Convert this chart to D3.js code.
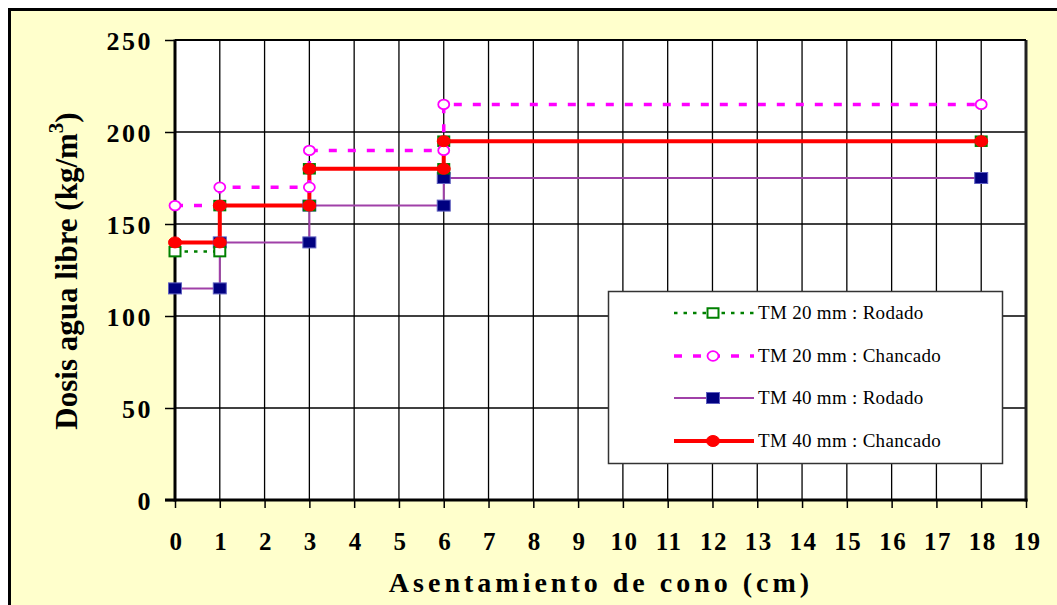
<!DOCTYPE html>
<html>
<head>
<meta charset="utf-8">
<script src="https://cdn.jsdelivr.net/npm/d3@7/dist/d3.min.js"></script>
<style>
  html, body { margin: 0; padding: 0; background: #ffffff; }
  svg { display: block; }
</style>
</head>
<body>
<svg id="chart" width="1057" height="605"></svg>
<script>
// ---- Data ----
const slump = [0, 1, 1, 3, 3, 6, 6, 18];
const rodado20 = [135, 135, 160, 160, 180, 180, 195, 195];
const chancado20 = [160, 160, 170, 170, 190, 190, 215, 215];
const rodado40 = [115, 115, 140, 140, 160, 160, 175, 175];
const chancado40 = [140, 140, 160, 160, 180, 180, 195, 195];
const xTicks = d3.range(0, 20);
const yTicks = [0, 50, 100, 150, 200, 250];
const seriesNames = ["TM 20 mm : Rodado", "TM 20 mm : Chancado", "TM 40 mm : Rodado", "TM 40 mm : Chancado"];
const xTitle = "Asentamiento de cono (cm)";
const yTitle = "Dosis agua libre (kg/m";

(function () {
const svg = d3.select("#chart");
const W = 1057, H = 605;
const pL = 175, pR = 1026, pT = 40, pB = 500;
const serif = "'Liberation Serif', 'Times New Roman', serif";

const x = d3.scaleLinear().domain([0, 19]).range([pL, pR]);
const y = d3.scaleLinear().domain([0, 250]).range([pB, pT]);

// background + outer frame
svg.append("rect").attr("x", 0).attr("y", 0).attr("width", W).attr("height", H).attr("fill", "#ffffff");
svg.append("rect").attr("x", 9.5).attr("y", 9.5).attr("width", W + 20).attr("height", H + 20)
  .attr("fill", "#FFFFCC").attr("stroke", "#000").attr("stroke-width", 3);

// plot area
svg.append("rect").attr("x", pL).attr("y", pT).attr("width", pR - pL).attr("height", pB - pT)
  .attr("fill", "#ffffff");

// gridlines
const grid = svg.append("g");
grid.selectAll("line.v").data(xTicks.filter(d => d > 0)).join("line")
  .attr("x1", d => x(d)).attr("x2", d => x(d)).attr("y1", pT).attr("y2", pB)
  .attr("stroke", "#000").attr("stroke-width", 1.3);
grid.selectAll("line.h").data(yTicks.filter(d => d > 0)).join("line")
  .attr("x1", pL).attr("x2", pR).attr("y1", d => y(d)).attr("y2", d => y(d))
  .attr("stroke", "#000").attr("stroke-width", 1.5);

// right border
svg.append("line").attr("x1", pR).attr("x2", pR).attr("y1", pT).attr("y2", pB + 1.5)
  .attr("stroke", "#222").attr("stroke-width", 3);

// axes
const xAxis = d3.axisBottom(x).tickValues(xTicks).tickSize(8).tickFormat(d3.format("d"));
const yAxis = d3.axisLeft(y).tickValues(yTicks).tickSize(10).tickFormat(d3.format("d"));

const gx = svg.append("g").attr("transform", `translate(0,${pB})`).call(xAxis);
gx.select(".domain").remove();
gx.selectAll(".tick line").attr("stroke", "#000").attr("stroke-width", 1.5);
gx.selectAll(".tick text")
  .attr("y", 0).attr("dy", 0)
  .attr("transform", "translate(1,50)")
  .attr("font-family", serif)
  .attr("font-weight", "bold").attr("font-size", 25)
  .attr("letter-spacing", 1.5).attr("fill", "#000");

const gy = svg.append("g").attr("transform", `translate(${pL},0)`).call(yAxis);
gy.select(".domain").remove();
gy.selectAll(".tick line").attr("stroke", "#000").attr("stroke-width", 1.5);
gy.selectAll(".tick text")
  .attr("x", -22).attr("dy", 0).attr("y", 9)
  .attr("font-family", serif)
  .attr("font-weight", "bold").attr("font-size", 26)
  .attr("letter-spacing", 2.5).attr("fill", "#000");

// axis lines (thick left & bottom, thin top)
svg.append("line").attr("x1", pL).attr("x2", pL).attr("y1", pT - 0.5).attr("y2", pB + 1.5)
  .attr("stroke", "#000").attr("stroke-width", 3);
svg.append("line").attr("x1", pL - 10).attr("x2", pR + 1.5).attr("y1", pB).attr("y2", pB)
  .attr("stroke", "#000").attr("stroke-width", 3);
svg.append("line").attr("x1", pL).attr("x2", pR).attr("y1", pT).attr("y2", pT)
  .attr("stroke", "#000").attr("stroke-width", 1.8);

// series
const S = {
  r20: { name: seriesNames[0], vals: rodado20, color: "#008000", width: 2.5, dash: "3.5,6", marker: "square", mfill: "#ffffff", mstroke: "#008000" },
  c20: { name: seriesNames[1], vals: chancado20, color: "#FF00FF", width: 3.5, dash: "8,11", marker: "circle", mfill: "#ffffff", mstroke: "#FF00FF" },
  r40: { name: seriesNames[2], vals: rodado40, color: "#A040A8", width: 2, dash: null, marker: "square", mfill: "#000080", mstroke: "#6060C0" },
  c40: { name: seriesNames[3], vals: chancado40, color: "#FF0000", width: 4, dash: null, marker: "circle", mfill: "#FF0000", mstroke: "#FF0000" }
};
const lineOrder = [S.r40, S.r20, S.c40, S.c20];
const markerOrder = [S.r40, S.r20, S.c20, S.c40];

const line = d3.line().x(d => x(d[0])).y(d => y(d[1]));

function drawMarker(g, type, cx, cy, fill, stroke, hollow) {
  if (type === "square") {
    const w = hollow ? 11 : 13, h = hollow ? 9.5 : 11;
    g.append("rect").attr("x", cx - w / 2).attr("y", cy - h / 2).attr("width", w).attr("height", h)
      .attr("fill", fill).attr("stroke", stroke).attr("stroke-width", hollow ? 2 : 1);
  } else {
    const rx = hollow ? 5.5 : 6.5, ry = hollow ? 4.8 : 5.5;
    g.append("ellipse").attr("cx", cx).attr("cy", cy).attr("rx", rx).attr("ry", ry)
      .attr("fill", fill).attr("stroke", stroke).attr("stroke-width", hollow ? 1.8 : 1);
  }
}

const gl = svg.append("g");
lineOrder.forEach(s => {
  const pts = slump.map((xv, i) => [xv, s.vals[i]]);
  const p = gl.append("path").attr("d", line(pts)).attr("fill", "none")
    .attr("stroke", s.color).attr("stroke-width", s.width);
  if (s.dash) p.attr("stroke-dasharray", s.dash);
});
const gm = svg.append("g");
markerOrder.forEach(s => {
  slump.forEach((xv, i) => drawMarker(gm, s.marker, x(xv), y(s.vals[i]), s.mfill, s.mstroke, s.mfill === "#ffffff"));
});

// legend
const lg = svg.append("g");
lg.append("rect").attr("x", 608.5).attr("y", 291.5).attr("width", 394).attr("height", 172)
  .attr("fill", "#ffffff").attr("stroke", "#333").attr("stroke-width", 1.5);
const legendOrder = [S.r20, S.c20, S.r40, S.c40];
const legendY = [313, 356, 398, 441];
legendOrder.forEach((s, i) => {
  const ly = legendY[i];
  const l = lg.append("line").attr("x1", 674).attr("x2", 754).attr("y1", ly).attr("y2", ly)
    .attr("stroke", s.color).attr("stroke-width", s.width);
  if (s.dash) l.attr("stroke-dasharray", s.dash);
  drawMarker(lg, s.marker, 713, ly, s.mfill, s.mstroke, s.mfill === "#ffffff");
  lg.append("text").attr("x", 758).attr("y", ly + 6)
    .attr("font-family", serif)
    .attr("font-size", 19).attr("letter-spacing", 0.3).attr("fill", "#000")
    .text(s.name);
});

// axis titles
svg.append("text").attr("x", 601).attr("y", 592).attr("text-anchor", "middle")
  .attr("font-family", serif)
  .attr("font-weight", "bold").attr("font-size", 28).attr("letter-spacing", 4)
  .attr("fill", "#000").text(xTitle);

const yt = svg.append("text").attr("transform", "translate(77,271) rotate(-90)")
  .attr("text-anchor", "middle")
  .attr("font-family", serif)
  .attr("font-weight", "bold").attr("font-size", 31).attr("fill", "#000");
yt.append("tspan").text(yTitle);
yt.append("tspan").attr("font-size", 21).attr("dy", -14).text("3");
yt.append("tspan").attr("dy", 14).text(")");
})();
</script>
</body>
</html>
